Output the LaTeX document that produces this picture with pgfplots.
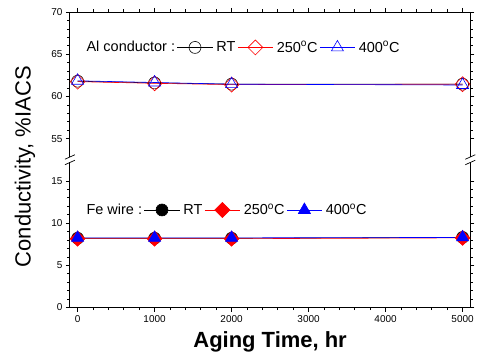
\documentclass[border=0pt]{standalone}
\usepackage{pgfplots}
\pgfplotsset{compat=1.18}
\usepackage{fontspec}
\setmainfont{Liberation Sans}
\begin{document}
\begin{tikzpicture}
\pgfplotsset{
  brk/.style={
    scale only axis, width=401pt, height=148pt,
    xmin=-100, xmax=5100,
    xtick={0,1000,2000,3000,4000,5000},
    minor x tick num=4, minor y tick num=4,
    tick align=outside,
    major tick length=4pt, minor tick length=2.5pt,
    every tick/.style={black, line width=0.6pt},
    axis line style={-, line width=0.8pt},
    /pgf/number format/assume math mode=true,
    /pgf/number format/1000 sep={},
    tick label style={font=\fontsize{10}{12}\selectfont},
    legend columns=-1,
    legend style={draw=none, fill=none, anchor=west,
      font=\fontsize{14.5}{16}\selectfont,
      /tikz/every even column/.append style={column sep=0pt},
      /tikz/every odd column/.append style={column sep=1.5pt}},
    legend image code/.code={\draw[mark repeat=2,mark phase=2] plot coordinates {(0cm,0cm) (0.62cm,0cm) (1.24cm,0cm)};},
  },
  mc/.style={mark=o, mark size=6pt},
  md/.style={mark=square, mark size=5.3pt, mark options={rotate=45}},
  mt/.style={mark=triangle, mark size=7pt},
}
\begin{axis}[brk, name=top, at={(0,0)}, anchor=south west,
  ymin=52.5, ymax=70, ytick={55,60,65,70},
  axis x line*=top, axis y line*=box,
  xtick pos=right, xticklabels={},
  legend style={at={(0.025,0.76)}},
]
\addlegendimage{empty legend}
\addlegendentry{Al conductor :}
\addplot[black, line width=0.6pt, mark=o, mark size=6pt, mark options={fill=white}] coordinates {(0,61.8) (1000,61.6) (2000,61.45) (5000,61.45)};
\addlegendentry{RT}
\addplot[red, line width=0.6pt, mark=square, mark size=5.3pt, mark options={fill=white, rotate=45}] coordinates {(0,61.75) (1000,61.55) (2000,61.4) (5000,61.45)};
\addlegendentry{250$^{\mathrm{o}}$C}
\addplot[blue, line width=0.6pt, mark=triangle, mark size=7pt, mark options={fill=white}] coordinates {(0,61.85) (1000,61.65) (2000,61.45) (5000,61.35)};
\addlegendentry{400$^{\mathrm{o}}$C}
\end{axis}
\begin{axis}[brk, name=bot, at={(top.south west)}, anchor=north west,
  ymin=0, ymax=17.5, ytick={0,5,10,15},
  axis x line*=bottom, axis y line*=box,
  xtick pos=left,
  xlabel={\fontsize{22}{24}\selectfont\bfseries Aging Time, hr},
  xlabel style={yshift=-3pt},
  legend style={at={(0.025,0.66)}},
]
\addlegendimage{empty legend}
\addlegendentry{Fe wire :}
\addplot[black, line width=0.6pt, mark=*, mark size=6pt] coordinates {(0,8.2) (1000,8.2) (2000,8.2) (5000,8.3)};
\addlegendentry{RT}
\addplot[red, line width=0.6pt, mark=square*, mark size=5.3pt, mark options={rotate=45}] coordinates {(0,8.15) (1000,8.15) (2000,8.15) (5000,8.25)};
\addlegendentry{250$^{\mathrm{o}}$C}
\addplot[blue, line width=0.6pt, mark=triangle*, mark size=7pt] coordinates {(0,8.25) (1000,8.25) (2000,8.25) (5000,8.3)};
\addlegendentry{400$^{\mathrm{o}}$C}
\end{axis}
% axis break marks
\foreach \a in {top.south west, top.south east}{
  \fill[white] ([xshift=-3pt,yshift=-2.5pt]\a) rectangle ([xshift=3pt,yshift=2.5pt]\a);
  \draw[line width=0.7pt] ([xshift=-5pt,yshift=-5pt]\a) -- ([xshift=5pt,yshift=-0.5pt]\a);
  \draw[line width=0.7pt] ([xshift=-5pt,yshift=0.5pt]\a) -- ([xshift=5pt,yshift=5pt]\a);
}
\node[rotate=90, font=\fontsize{22}{24}\selectfont] at ([xshift=-45pt,yshift=-7pt]top.south west) {Conductivity,\ \%IACS};
\path ([xshift=-70pt,yshift=-55pt]bot.south west) rectangle ([xshift=6pt,yshift=12pt]top.north east);
\end{tikzpicture}
\end{document}
